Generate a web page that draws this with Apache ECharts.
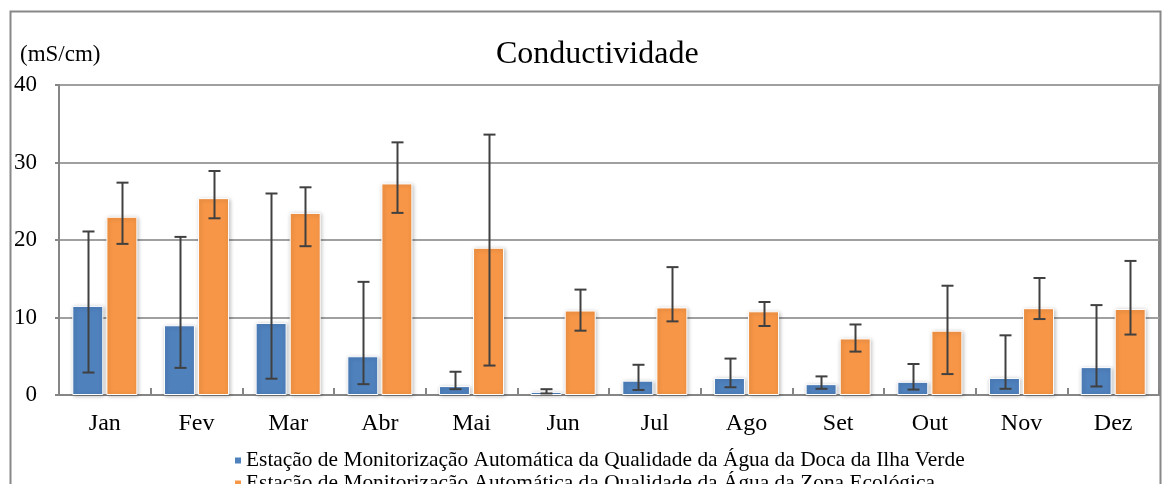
<!DOCTYPE html>
<html><head><meta charset="utf-8">
<script src="https://cdn.jsdelivr.net/npm/echarts@6/dist/echarts.min.js"></script>
<style>html,body{margin:0;padding:0;background:#fff}#c{width:1171px;height:484px}</style>
</head><body><div id="c"></div>
<script>
const categories = ['Jan','Fev','Mar','Abr','Mai','Jun','Jul','Ago','Set','Out','Nov','Dez'];
const seriesNames = [
  'Estação de Monitorização Automática da Qualidade da Água da Doca da Ilha Verde',
  'Estação de Monitorização Automática da Qualidade da Água da Zona Ecológica'
];
const ilhaVerde = [11.5, 9.0, 9.3, 5.0, 1.15, 0.4, 1.85, 2.2, 1.4, 1.7, 2.2, 3.6];
const ilhaVerdeLow = [2.9, 3.5, 2.1, 1.4, 0.75, 0.2, 0.65, 1.0, 0.8, 0.7, 0.8, 1.1];
const ilhaVerdeHigh = [21.1, 20.4, 26.0, 14.6, 3.0, 0.75, 3.9, 4.7, 2.4, 4.0, 7.7, 11.6];
const zonaEco = [23.0, 25.4, 23.5, 27.3, 19.0, 10.9, 11.3, 10.8, 7.3, 8.3, 11.2, 11.1];
const zonaEcoLow = [19.5, 22.8, 19.2, 23.5, 3.8, 8.3, 9.5, 8.9, 5.6, 2.7, 9.8, 7.8];
const zonaEcoHigh = [27.4, 28.9, 26.8, 32.6, 33.6, 13.6, 16.5, 12.0, 9.1, 14.1, 15.1, 17.3];
const yTicks = [0, 10, 20, 30, 40];

const FONT = '"Liberation Serif", "Times New Roman", serif';
const BAR_W = 31, GAP = 3;
const colors = ['#4F81BD', '#F79646'];

function errData(lo, hi) { return categories.map((c, i) => [i, lo[i], hi[i]]); }
function errSeries(lo, hi, offset) {
  return {
    type: 'custom', silent: true, z: 5,
    data: errData(lo, hi),
    encode: { x: 0, y: [1, 2] },
    renderItem: function (params, api) {
      const i = api.value(0);
      const pLo = api.coord([i, api.value(1)]);
      const pHi = api.coord([i, api.value(2)]);
      const x = Math.round(pLo[0] + offset) + 0.5;
      const hw = 6;
      const st = { stroke: '#404040', lineWidth: 2 };
      return { type: 'group', children: [
        { type: 'line', shape: { x1: x, y1: pHi[1], x2: x, y2: pLo[1] }, style: st },
        { type: 'line', shape: { x1: x - hw, y1: pHi[1], x2: x + hw, y2: pHi[1] }, style: st },
        { type: 'line', shape: { x1: x - hw, y1: pLo[1], x2: x + hw, y2: pLo[1] }, style: st }
      ]};
    }
  };
}
const off = (BAR_W + GAP) / 2;
const barStyle = (c) => ({ color: c, borderColor: '#fff', borderWidth: 1, shadowColor: 'rgba(0,0,0,0.25)', shadowBlur: 4, shadowOffsetX: 1, shadowOffsetY: 1 });
const legendBase = { orient: 'horizontal', left: 228, itemWidth: 8, itemHeight: 8, icon: 'rect',
  textStyle: { fontFamily: FONT, fontSize: 21.4, color: '#000', padding: [0, 0, 0, -1] } };

const chart = echarts.init(document.getElementById('c'), null, { renderer: 'canvas' });
chart.setOption({
  animation: false,
  color: colors,
  title: { text: 'Conductividade', left: 491, top: 34, textStyle: { fontFamily: FONT, fontSize: 32, fontWeight: 'normal', color: '#000' } },
  graphic: [
    { type: 'rect', shape: { x: 10.5, y: 11.5, width: 1150, height: 520 }, style: { fill: 'none', stroke: '#888', lineWidth: 2 }, z: 0 },
    { type: 'text', left: 20, top: 43, style: { text: '(mS/cm)', font: '23px ' + FONT, fill: '#000' } }
  ],
  legend: [
    Object.assign({}, legendBase, { top: 445, data: [seriesNames[0]] }),
    Object.assign({}, legendBase, { top: 468, data: [seriesNames[1]] })
  ],
  grid: { left: 59, right: 12, top: 85, bottom: 89, show: true, borderColor: '#8a8a8a', borderWidth: 2, containLabel: false },
  xAxis: {
    type: 'category', data: categories,
    axisLine: { lineStyle: { color: '#868686', width: 2 } },
    axisTick: { show: true, inside: true, length: 7, lineStyle: { color: '#868686', width: 2 } },
    axisLabel: { fontFamily: FONT, fontSize: 24, color: '#000', margin: 17 }
  },
  yAxis: {
    type: 'value', min: 0, max: 40, interval: 10,
    axisLine: { show: true, lineStyle: { color: '#868686', width: 2 } },
    axisTick: { show: true, length: 4, lineStyle: { color: '#868686', width: 2 } },
    axisLabel: { fontFamily: FONT, fontSize: 23, color: '#000', margin: 22, formatter: (v) => yTicks.includes(v) ? String(v) : '' },
    splitLine: { lineStyle: { color: '#a0a0a0', width: 2 } }
  },
  series: [
    { name: seriesNames[0], type: 'bar', data: ilhaVerde, barWidth: BAR_W, barGap: '10%', itemStyle: barStyle(colors[0]) },
    { name: seriesNames[1], type: 'bar', data: zonaEco, barWidth: BAR_W, barGap: '10%', itemStyle: barStyle(colors[1]) },
    errSeries(ilhaVerdeLow, ilhaVerdeHigh, -off),
    errSeries(zonaEcoLow, zonaEcoHigh, off)
  ]
});
</script></body></html>
